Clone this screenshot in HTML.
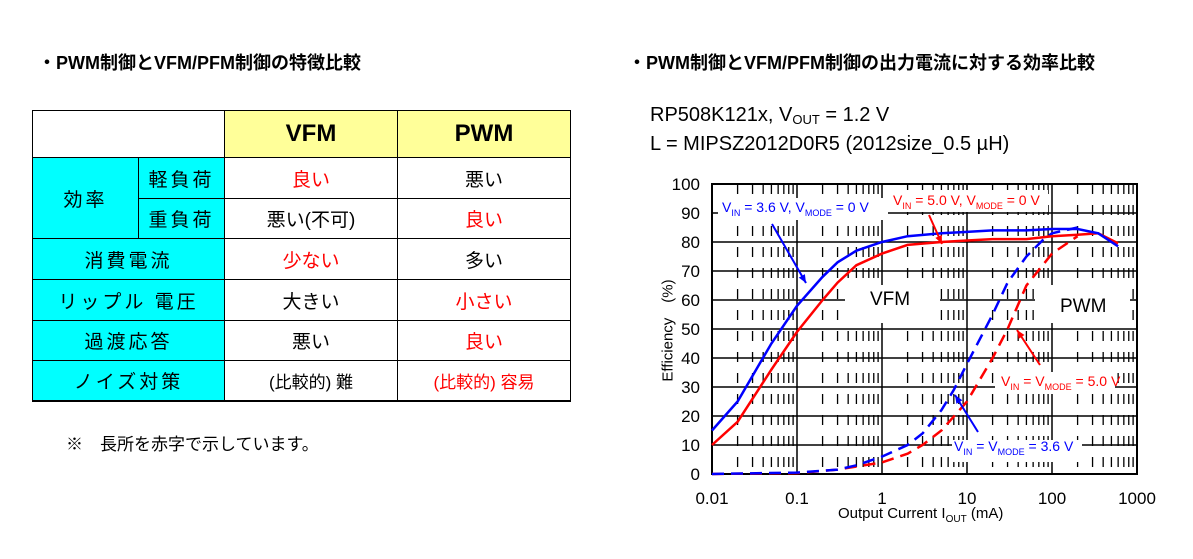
<!DOCTYPE html>
<html><head><meta charset="utf-8">
<style>
body{margin:0;width:1193px;height:559px;background:#fff;position:relative;overflow:hidden;font-family:"Liberation Sans","Noto Sans CJK JP",sans-serif;}
.title{position:absolute;font-weight:bold;font-size:18px;color:#000;white-space:nowrap;}
table{position:absolute;left:32px;top:110px;border-collapse:collapse;}
td{border:1px solid #000;text-align:center;font-size:19px;padding:0;font-family:"Liberation Sans","Noto Sans CJK JP",sans-serif;}
.c{background:#00ffff;letter-spacing:3px;}
.h{background:#ffff99;font-weight:bold;font-size:24px;}
.r{color:#ff0000;}
.sub{position:absolute;left:650px;font-size:20px;white-space:nowrap;}
.sub sub{font-size:13px;vertical-align:-3px;}
</style></head><body>
<div class="title" style="left:38px;top:49px">・PWM制御とVFM/PFM制御の特徴比較</div>
<div class="title" style="left:628px;top:49px">・PWM制御とVFM/PFM制御の出力電流に対する効率比較</div>

<table>
<colgroup><col style="width:106px"><col style="width:86px"><col style="width:173px"><col style="width:173px"></colgroup>
<tr style="height:47px"><td colspan="2" style="border-bottom:1px solid #000"></td><td class="h">VFM</td><td class="h">PWM</td></tr>
<tr style="height:41px"><td class="c" rowspan="2">効率</td><td class="c">軽負荷</td><td class="r">良い</td><td>悪い</td></tr>
<tr style="height:40px"><td class="c">重負荷</td><td>悪い(不可)</td><td class="r">良い</td></tr>
<tr style="height:41px"><td class="c" colspan="2">消費電流</td><td class="r">少ない</td><td>多い</td></tr>
<tr style="height:41px"><td class="c" colspan="2">リップル 電圧</td><td>大きい</td><td class="r">小さい</td></tr>
<tr style="height:40px"><td class="c" colspan="2">過渡応答</td><td>悪い</td><td class="r">良い</td></tr>
<tr style="height:40px"><td class="c" colspan="2" style="border-bottom:2px solid #000">ノイズ対策</td><td style="border-bottom:2px solid #000;font-size:17px">(比較的) 難</td><td class="r" style="border-bottom:2px solid #000;font-size:17px">(比較的) 容易</td></tr>
</table>
<div style="position:absolute;left:66px;top:430px;font-size:17px">※　長所を赤字で示しています。</div>

<div class="sub" style="top:104px">RP508K121x, V<sub>OUT</sub> = 1.2 V</div>
<div class="sub" style="top:133px">L = MIPSZ2012D0R5 (2012size_0.5 µH)</div>

<svg id="chart" width="1193" height="559" style="position:absolute;left:0;top:0"></svg>
<script>
const xTicks=[0.01,0.1,1,10,100,1000];
const xTickLabels=["0.01","0.1","1","10","100","1000"];
const yTicks=[0,10,20,30,40,50,60,70,80,90,100];
const blueSolidX=[0.01,0.02,0.05,0.1,0.2,0.3,0.5,1,2,5,10,20,50,100,200,350,600];
const blueSolidY=[15,25,45,58,68,73,77,80,82,83,83.5,84,84,84.5,84.5,83,78.5];
const redSolidX=[0.01,0.02,0.05,0.1,0.2,0.3,0.5,1,2,5,10,20,50,100,200,350,600];
const redSolidY=[10,18,36,49,60,66,72,76,79,80,80.5,81,81,82,82.5,83,79.5];
const blueDashX=[0.01,0.1,0.3,0.5,1,2,3,5,7,10,20,30,50,80,100,200];
const blueDashY=[0,0.5,1.5,3,6,10,14,22,29,38,55,66,75,81,83,85];
const redDashX=[0.01,0.1,0.3,1,2,3,5,10,20,30,50,100,200];
const redDashY=[0,0.3,1.5,4,7,10,15,25,40,50,65,76,82];
const L=712,R=1137,T=184,B=474;
const xs=v=>L+(Math.log10(v)+2)/5*(R-L);
const ys=v=>B-v/100*(B-T);
const svg=document.getElementById('chart');
const NS='http://www.w3.org/2000/svg';
function mk(tag,attrs,parent){const e=document.createElementNS(NS,tag);for(const k in attrs)e.setAttribute(k,attrs[k]);(parent||svg).appendChild(e);return e;}
for(let d=0;d<5;d++){for(let m=2;m<=9;m++){const v=Math.pow(10,d-2)*m;
 const ln=mk('line',{x1:xs(v),x2:xs(v),y1:T,y2:B,stroke:'#000','stroke-width':1.3,'stroke-dasharray':'10,11'});
 
 }}
yTicks.forEach(v=>{const ln=mk('line',{x1:L,x2:R,y1:ys(v),y2:ys(v),stroke:'#000','stroke-width':1.5});
 
 
 const t=mk('text',{x:L-12,y:ys(v)+6,'text-anchor':'end','font-size':17,'font-family':'Liberation Sans, sans-serif'});t.textContent=v;
 
 });
xTicks.forEach((v,i)=>{const ln=mk('line',{x1:xs(v),x2:xs(v),y1:T,y2:B,stroke:'#000','stroke-width':1.5});
 
 
 const t=mk('text',{x:xs(v),y:B+30,'text-anchor':'middle','font-size':17,'font-family':'Liberation Sans, sans-serif'});t.textContent=xTickLabels[i];
 
 });
mk('rect',{x:L,y:T,width:R-L,height:B-T,fill:'none',stroke:'#000','stroke-width':2});
function box(x,y,w,h){mk('rect',{x:x,y:y,width:w,height:h,fill:'#fff'});}
box(718,198,170,22);box(888,190,160,22);box(845,285,95,38);box(1035,285,95,38);box(995,372,120,22);box(952,440,130,22);
function series(X,Y,color,dash,name){const d=X.map((v,i)=>(i?'L':'M')+xs(v).toFixed(1)+','+ys(Y[i]).toFixed(1)).join(' ');
 const p=mk('path',{d:d,fill:'none',stroke:color,'stroke-width':2.5,'stroke-dasharray':dash||'none'});
 
 }
series(redDashX,redDashY,'#ff0000','12,7','series-vin-vmode-5v');
series(blueDashX,blueDashY,'#0000ff','12,7','series-vin-vmode-3.6v');
series(redSolidX,redSolidY,'#ff0000','','series-vin-5v-vmode-0v');
series(blueSolidX,blueSolidY,'#0000ff','','series-vin-3.6v-vmode-0v');
function arrow(x1,y1,x2,y2,c){mk('line',{x1:x1,y1:y1,x2:x2,y2:y2,stroke:c,'stroke-width':2});
 const a=Math.atan2(y2-y1,x2-x1),s=9;
 mk('polygon',{points:`${x2},${y2} ${x2-s*Math.cos(a-0.4)},${y2-s*Math.sin(a-0.4)} ${x2-s*Math.cos(a+0.4)},${y2-s*Math.sin(a+0.4)}`,fill:c});}
arrow(772,224,806,283,'#0000ff');arrow(929,215,942,244,'#ff0000');arrow(1040,365,1017,330,'#ff0000');arrow(978,432,955,395,'#0000ff');
</script>
<div style="position:absolute;left:722px;top:199px;font-size:14px;color:#0000ff;white-space:nowrap">V<sub style="font-size:9px">IN</sub> = 3.6 V, V<sub style="font-size:9px">MODE</sub> = 0 V</div>
<div style="position:absolute;left:893px;top:192px;font-size:14px;color:#ff0000;white-space:nowrap">V<sub style="font-size:9px">IN</sub> = 5.0 V, V<sub style="font-size:9px">MODE</sub> = 0 V</div>
<div style="position:absolute;left:1001px;top:373px;font-size:14px;color:#ff0000;white-space:nowrap">V<sub style="font-size:9px">IN</sub> = V<sub style="font-size:9px">MODE</sub> = 5.0 V</div>
<div style="position:absolute;left:954px;top:438px;font-size:14px;color:#0000ff;white-space:nowrap">V<sub style="font-size:9px">IN</sub> = V<sub style="font-size:9px">MODE</sub> = 3.6 V</div>
<div style="position:absolute;left:870px;top:289px;font-size:19px">VFM</div>
<div style="position:absolute;left:1060px;top:296px;font-size:19px">PWM</div>
<div style="position:absolute;left:838px;top:505px;font-size:15px;white-space:nowrap">Output Current I<sub style="font-size:10px">OUT</sub> (mA)</div>
<div style="position:absolute;left:607px;top:320px;font-size:15px;transform:rotate(-90deg);transform-origin:center;width:120px;text-align:center;white-space:nowrap">Efficiency　(%)</div>
</body></html>
